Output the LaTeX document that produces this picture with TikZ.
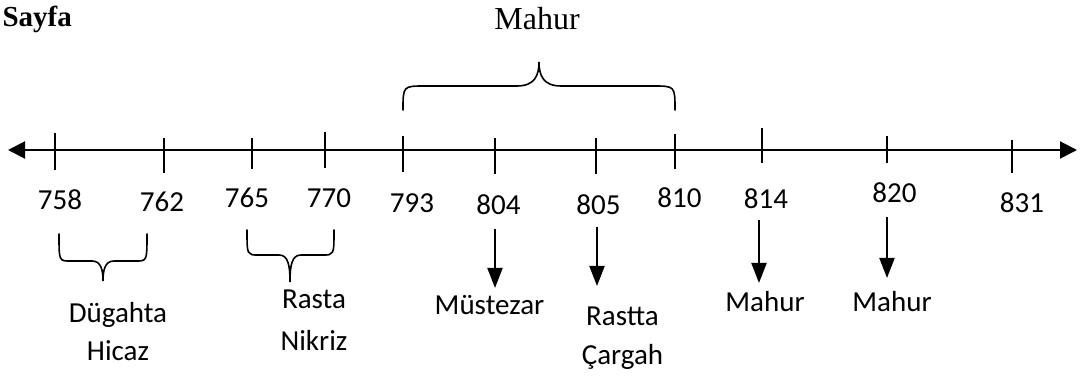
\documentclass[tikz,border=0pt]{standalone}
\usepackage{fontspec}
\usetikzlibrary{arrows.meta}
\newfontfamily\calib{Carlito}
\newfontfamily\tms{Liberation Serif}
\newcommand{\lbfont}{\calib\fontsize{29}{38}\selectfont}
\begin{document}
\begin{tikzpicture}[x=1pt,y=-1pt,
  lbl/.style={font=\lbfont, inner sep=0pt, anchor=base, align=center},
  tick/.style={line width=1.6pt},
  axis/.style={line width=2pt, {Triangle[length=17pt,width=17pt]}-{Triangle[length=17pt,width=17pt]}},
  dar/.style={line width=2pt, -{Triangle[length=20pt,width=15pt]}},
  brace/.style={line width=1.6pt, line cap=round}]
\useasboundingbox (0,0) rectangle (1082,379);
% title
\node[font=\tms\bfseries\fontsize{29}{34}\selectfont, inner sep=0pt, anchor=base east] (sayfa) at (72,27) {Sayfa};
\node[font=\tms\fontsize{32}{38}\selectfont, inner sep=0pt, anchor=base] (mahurtop) at (537,30) {Mahur};
% axis
\coordinate (aL) at (8,150);
\coordinate (aR) at (1077,150);
\draw[axis] (aL) -- (aR);
% ticks
\foreach \x/\t/\b in {55/133/170, 164/138/173, 252/138/169, 325/132/168, 403/136/172, 495/138/174, 596/138/174, 675/134/169, 762/128/163, 887/136/163, 1012/140/173}
  \draw[tick] (\x,\t) -- (\x,\b);
% year labels
\node[lbl] (y758) at (60,210) {758};
\node[lbl] (y762) at (162,212) {762};
\node[lbl] (y765) at (247,208) {765};
\node[lbl] (y770) at (329,208) {770};
\node[lbl] (y793) at (412,213) {793};
\node[lbl] (y804) at (498.5,215) {804};
\node[lbl] (y805) at (598.5,215) {805};
\node[lbl] (y810) at (679.5,208) {810};
\node[lbl] (y814) at (766,209) {814};
\node[lbl] (y820) at (894.5,203) {820};
\node[lbl] (y831) at (1022,213) {831};
% top brace
\draw[brace] (403,110) .. controls (403,86) .. (425,86) -- (517,86)
  .. controls (535,86) and (539,75) .. (539,62)
  .. controls (539,75) and (543,86) .. (561,86) -- (653,86)
  .. controls (675,86) .. (675,110);
% lower braces
\draw[brace] (59,234) .. controls (59,261) .. (70,261) -- (92,261)
  .. controls (101,261) and (103,270) .. (103,281)
  .. controls (103,270) and (105,261) .. (114,261) -- (136,261)
  .. controls (147,261) .. (147,234);
\draw[brace] (247,230) .. controls (247,255) .. (258,255) -- (279,255)
  .. controls (288,255) and (290,265) .. (290,282)
  .. controls (290,265) and (292,255) .. (301,255) -- (323,255)
  .. controls (334,255) .. (334,230);
% lower labels (base = baseline of last line)
\node[lbl] (dug) at (118,360) {Dügahta\\Hicaz};
\node[lbl] (ras) at (314,351) {Rasta\\[4pt]Nikriz};
\node[lbl] (mus) at (489.5,315) {Müstezar};
\node[lbl] (rst) at (622.5,364) {Rastta\\[1pt]Çargah};
\node[lbl] (mh1) at (765,312) {Mahur};
\node[lbl] (mh2) at (892,312) {Mahur};
% arrows
\coordinate (s1) at (495,229); \coordinate (e1) at (495,288);
\coordinate (s2) at (597,227); \coordinate (e2) at (597,286);
\coordinate (s3) at (759,220); \coordinate (e3) at (759,283);
\coordinate (s4) at (887,217); \coordinate (e4) at (887,278);
\draw[dar] (s1) -- (e1);
\draw[dar] (s2) -- (e2);
\draw[dar] (s3) -- (e3);
\draw[dar] (s4) -- (e4);
\end{tikzpicture}
\end{document}
